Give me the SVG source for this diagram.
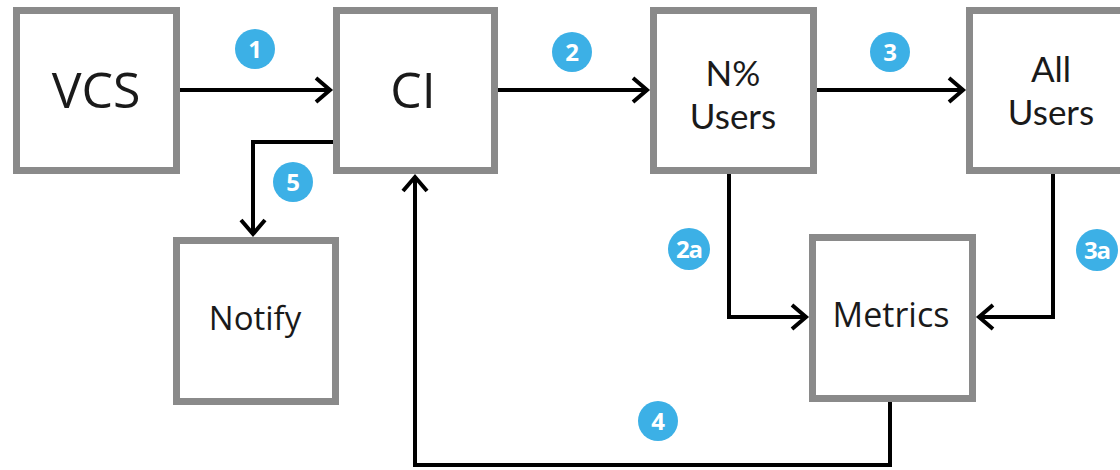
<svg xmlns="http://www.w3.org/2000/svg" width="1120" height="470" viewBox="0 0 1120 470">
<style>
.box{fill:#fff;stroke:#8a8a8a;stroke-width:7}
.lbl{font-family:"Open Sans",sans-serif;fill:#1a1a1a;text-anchor:middle}
.lbl2{font-family:Lato,"Open Sans",sans-serif;fill:#1a1a1a;text-anchor:middle;font-size:35px}
.con{fill:none;stroke:#000;stroke-width:4;stroke-linejoin:miter}
.badge{fill:#3cb0e6}
.bt{font-family:"Open Sans",sans-serif;font-weight:bold;fill:#fff;font-size:24px;text-anchor:middle}
</style>
<defs>
<marker id="arr" markerUnits="userSpaceOnUse" markerWidth="30" markerHeight="30" viewBox="-20 -15 25 30" refX="0" refY="0" orient="auto">
<path d="M -14 -12 L 0 0 L -14 12" fill="none" stroke="#000" stroke-width="4" stroke-linejoin="miter"/>
</marker>
</defs>
<rect width="1120" height="470" fill="#fff"/>
<g id="connectors">
<path class="con" d="M 180 90 H 330" marker-end="url(#arr)"/>
<path class="con" d="M 498 90 H 647" marker-end="url(#arr)"/>
<path class="con" d="M 817 90 H 963" marker-end="url(#arr)"/>
<path class="con" d="M 333 142 H 253 V 234" marker-end="url(#arr)"/>
<path class="con" d="M 890 402 V 465 H 415 V 177" marker-end="url(#arr)"/>
<path class="con" d="M 729 174 V 317 H 806" marker-end="url(#arr)"/>
<path class="con" d="M 1053 174 V 317 H 979" marker-end="url(#arr)"/>
</g>
<g id="vcs"><rect class="box" x="16.5" y="10.5" width="160" height="160"/><text class="lbl" x="96" y="108" font-size="50">VCS</text></g>
<g id="ci"><rect class="box" x="336.5" y="10.5" width="158" height="160"/><text class="lbl" x="413" y="108" font-size="50">CI</text></g>
<g id="npct"><rect class="box" x="653.5" y="10.5" width="160" height="160"/><text class="lbl2" x="733" y="86">N%</text><text class="lbl2" x="733" y="129">Users</text></g>
<g id="allusers"><rect class="box" x="969.5" y="10.5" width="160" height="160"/><text class="lbl2" x="1051" y="82">All</text><text class="lbl2" x="1051" y="125">Users</text></g>
<g id="notify"><rect class="box" x="176.5" y="240.5" width="159" height="161"/><text class="lbl" x="255" y="330" font-size="33">Notify</text></g>
<g id="metrics"><rect class="box" x="812.5" y="237.5" width="160" height="161"/><text class="lbl" x="891" y="327" font-size="34">Metrics</text></g>
<g id="badges">
<circle class="badge" cx="255" cy="49" r="20"/><text class="bt" x="255" y="58">1</text>
<circle class="badge" cx="572" cy="52" r="20"/><text class="bt" x="572" y="61">2</text>
<circle class="badge" cx="890" cy="52" r="20"/><text class="bt" x="890" y="61">3</text>
<circle class="badge" cx="293" cy="182" r="20"/><text class="bt" x="293" y="191">5</text>
<circle class="badge" cx="689" cy="249" r="21"/><text class="bt" x="689" y="258" letter-spacing="-1">2a</text>
<circle class="badge" cx="1097" cy="250" r="21"/><text class="bt" x="1097" y="259" letter-spacing="-1">3a</text>
<circle class="badge" cx="658" cy="421" r="20"/><text class="bt" x="658" y="430">4</text>
</g>
</svg>
